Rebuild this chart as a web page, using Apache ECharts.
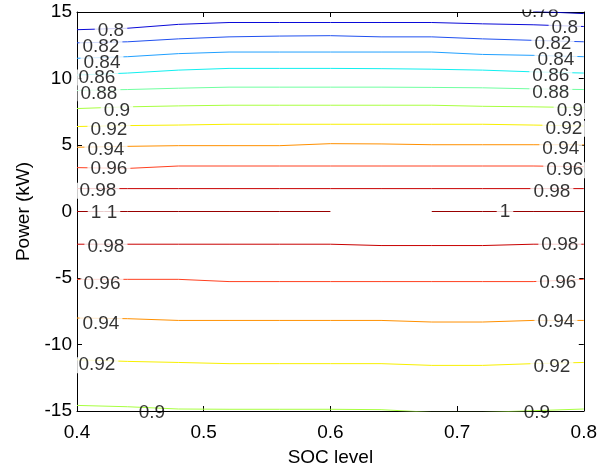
<!DOCTYPE html>
<html>
<head>
<meta charset="utf-8">
<script src="https://cdn.jsdelivr.net/npm/echarts@6/dist/echarts.min.js"></script>
<style>
html,body{margin:0;padding:0;background:#fff;}
#chart{width:600px;height:472px;}
</style>
</head>
<body>
<div id="chart"></div>
<script>
// SOC grid at which contour lines were sampled
var socGrid = [0.40, 0.44, 0.48, 0.52, 0.56, 0.60, 0.64, 0.68, 0.72, 0.76, 0.80];

// contour lines (efficiency level, power in kW at each socGrid point)
var c078 = [null, null, null, null, null, null, null, null, null, 15.05, 14.88];
var c080 = [13.67, 13.78, 14.07, 14.21, 14.21, 14.21, 14.21, 14.21, 14.11, 14.04, 13.91];
var c082 = [12.68, 12.76, 12.98, 13.13, 13.19, 13.22, 13.13, 13.13, 12.98, 12.87, 12.76];
var c084 = [11.52, 11.64, 11.87, 11.99, 11.99, 11.99, 11.99, 11.99, 11.81, 11.74, 11.64];
var c086 = [10.26, 10.41, 10.63, 10.76, 10.76, 10.76, 10.74, 10.70, 10.63, 10.50, 10.41];
var c088 = [9.10, 9.17, 9.27, 9.35, 9.35, 9.35, 9.35, 9.33, 9.30, 9.22, 9.17];
var c090 = [7.74, 7.87, 7.94, 7.99, 7.99, 7.99, 7.99, 7.99, 7.91, 7.87, 7.81];
var c092 = [6.39, 6.46, 6.50, 6.56, 6.56, 6.56, 6.56, 6.56, 6.56, 6.50, 6.43];
var c094 = [4.83, 4.90, 4.95, 4.95, 4.95, 5.10, 5.08, 5.02, 5.02, 5.02, 5.02];
var c096 = [3.30, 3.24, 3.42, 3.42, 3.42, 3.42, 3.42, 3.42, 3.42, 3.42, 3.37];
var c098 = [1.72, 1.72, 1.72, 1.72, 1.72, 1.72, 1.72, 1.72, 1.72, 1.72, 1.72];
var c100 = [0, 0, 0, 0, 0, 0, null, 0, 0, 0, 0];
var c098n = [-2.46, -2.46, -2.46, -2.46, -2.46, -2.46, -2.56, -2.56, -2.56, -2.46, -2.46];
var c096n = [-5.10, -5.10, -5.10, -5.27, -5.27, -5.27, -5.27, -5.27, -5.27, -5.27, -5.10];
var c094n = [-8.01, -8.06, -8.19, -8.19, -8.19, -8.19, -8.19, -8.31, -8.31, -8.19, -8.19];
var c092n = [-11.15, -11.27, -11.35, -11.44, -11.44, -11.44, -11.44, -11.57, -11.57, -11.44, -11.35];
var c090n = [-14.58, -14.68, -14.85, -14.87, -14.87, -14.87, -14.90, -15.10, -15.10, -14.98, -14.85];

// contour labels: text, SOC, power
var labelText = ['0.8','0.82','0.84','0.86','0.88','0.9','0.92','0.94','0.96','0.98','1','1','0.98','0.96','0.94','0.92','0.9',
                 '0.78','0.8','0.82','0.84','0.86','0.88','0.9','0.92','0.94','0.96','0.98','1','0.98','0.96','0.94','0.92','0.9'];
var labelSoc = [0.4268,0.4189,0.4197,0.4157,0.4173,0.4315,0.4252,0.4228,0.4252,0.4165,0.4150,0.4276,0.4228,0.4197,0.4189,0.4157,0.4591,
                0.7654,0.7850,0.7756,0.7780,0.7740,0.7740,0.7890,0.7843,0.7819,0.7850,0.7748,0.7378,0.7811,0.7795,0.7780,0.7748,0.7630];
var labelPow = [13.67,12.52,11.26,10.19,9.00,7.67,6.26,4.78,3.30,1.67,0.04,0.04,-2.56,-5.30,-8.33,-11.44,-15.0,
                15.15,13.89,12.70,11.52,10.33,9.07,7.67,6.33,4.85,3.22,1.59,0.11,-2.41,-5.22,-8.19,-11.59,-15.0];

var xTicks = [0.4, 0.5, 0.6, 0.7, 0.8];
var yTicks = [-15, -10, -5, 0, 5, 10, 15];

var contours = [
  {level: '0.78', data: c078, color: '#0000b8'},
  {level: '0.8',  data: c080, color: '#0a0ad8'},
  {level: '0.82', data: c082, color: '#2050f0'},
  {level: '0.84', data: c084, color: '#20a0ff'},
  {level: '0.86', data: c086, color: '#10f0f0'},
  {level: '0.88', data: c088, color: '#70ffa0'},
  {level: '0.9',  data: c090, color: '#a8ff40'},
  {level: '0.92', data: c092, color: '#f8f000'},
  {level: '0.94', data: c094, color: '#ff9000'},
  {level: '0.96', data: c096, color: '#ff4020'},
  {level: '0.98', data: c098, color: '#c80000'},
  {level: '1',    data: c100, color: '#980000'},
  {level: '0.98', data: c098n, color: '#c80000'},
  {level: '0.96', data: c096n, color: '#ff4020'},
  {level: '0.94', data: c094n, color: '#ff9000'},
  {level: '0.92', data: c092n, color: '#f8f000'},
  {level: '0.9',  data: c090n, color: '#a8ff40'}
];

var FONT = 'Liberation Sans';
var FS = 19;

var series = contours.map(function (c) {
  return {
    type: 'line',
    name: c.level,
    data: socGrid.map(function (x, i) { return [x, c.data[i]]; }),
    showSymbol: false,
    symbol: 'none',
    connectNulls: false,
    clip: true,
    lineStyle: {color: c.color, width: 1},
    z: 2,
    silent: true,
    animation: false
  };
});

var labelData = labelText.map(function (t, i) {
  var item = {value: [labelSoc[i], labelPow[i]], name: t};
  if (Math.abs(labelPow[i]) >= 15) item.label = {backgroundColor: 'transparent'};
  return item;
});

series.push({
  type: 'scatter',
  data: labelData,
  symbolSize: 1,
  itemStyle: {color: 'rgba(0,0,0,0)'},
  clip: false,
  z: 5,
  silent: true,
  animation: false,
  label: {
    show: true,
    position: 'inside',
    offset: [0, 1.5],
    formatter: '{b}',
    color: '#000',
    fontFamily: FONT,
    fontSize: FS,
    backgroundColor: '#ffffff',
    padding: [0, 3],
    lineHeight: 16
  }
});

var axisCommon = {
  axisLine: {show: true, onZero: false, lineStyle: {color: '#000', width: 1}},
  axisTick: {show: true, inside: true, length: 5, lineStyle: {color: '#000'}},
  splitLine: {show: false}
};

var chart = echarts.init(document.getElementById('chart'), null, {renderer: 'canvas'});
chart.setOption({
  animation: false,
  backgroundColor: '#fff',
  grid: {left: 77, right: 15, top: 12, bottom: 55, containLabel: false},
  xAxis: [
    Object.assign({
      type: 'value', min: xTicks[0], max: xTicks[xTicks.length - 1], interval: 0.1,
      position: 'bottom',
      name: 'SOC level', nameLocation: 'middle', nameGap: 37,
      nameTextStyle: {fontFamily: FONT, fontSize: FS, color: '#000'},
      axisLabel: {fontFamily: FONT, fontSize: FS, color: '#000', margin: 12,
        formatter: function (v) { return v.toFixed(1); }}
    }, axisCommon),
    Object.assign({
      type: 'value', min: xTicks[0], max: xTicks[xTicks.length - 1], interval: 0.1,
      position: 'top', axisLabel: {show: false}
    }, axisCommon)
  ],
  yAxis: [
    Object.assign({
      type: 'value', min: yTicks[0], max: yTicks[yTicks.length - 1], interval: 5,
      position: 'left',
      name: 'Power (kW)', nameLocation: 'middle', nameGap: 43,
      nameTextStyle: {fontFamily: FONT, fontSize: FS, color: '#000'},
      axisLabel: {fontFamily: FONT, fontSize: FS, color: '#000', margin: 5}
    }, axisCommon),
    Object.assign({
      type: 'value', min: yTicks[0], max: yTicks[yTicks.length - 1], interval: 5,
      position: 'right', axisLabel: {show: false}
    }, axisCommon)
  ],
  graphic: [
    {type: 'rect', shape: {x: 130, y: 418, width: 46, height: 8}, style: {fill: '#fff'}, z: 100, silent: true},
    {type: 'rect', shape: {x: 515, y: 418, width: 46, height: 8}, style: {fill: '#fff'}, z: 100, silent: true},
    {type: 'rect', shape: {x: 500, y: 0, width: 80, height: 9.5}, style: {fill: '#fff'}, z: 100, silent: true}
  ],
  series: series
});
</script>
</body>
</html>
